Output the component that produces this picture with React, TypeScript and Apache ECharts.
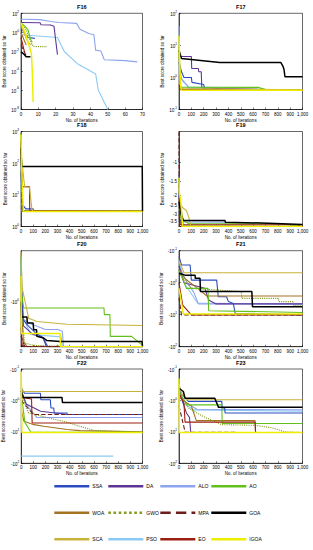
import React, { useEffect, useRef } from 'react';
import * as echarts from 'echarts';

type Pts = [number, number][];

const ALGOS = ['SSA', 'DA', 'ALO', 'AO', 'WOA', 'GWO', 'MPA', 'GOA', 'SCA', 'PSO', 'EO', 'IGOA'];
const DRAW_ORDER = ['PSO', 'ALO', 'DA', 'SSA', 'WOA', 'GWO', 'AO', 'EO', 'MPA', 'SCA', 'GOA', 'IGOA'];
const COLORS: Record<string, string> = {
  SSA: '#2b4cc0', DA: '#5e3596', ALO: '#8ea4ee', AO: '#62c01c', WOA: '#a3731f', GWO: '#849c1c',
  MPA: '#6e1d1d', GOA: '#000000', SCA: '#c9b23a', PSO: '#8ccaf4', EO: '#9a1f10', IGOA: '#eeee00',
};
const LINE_TYPES: Record<string, string> = { GWO: 'dotted', MPA: 'dashed' };

const TITLES = ['F16', 'F17', 'F18', 'F19', 'F20', 'F21', 'F22', 'F23'];
const X_MAX = [70, 1000, 1000, 1000, 1000, 1000, 1000, 1000];
const X_STEP = [10, 100, 100, 100, 100, 100, 100, 100];
const Y_MIN = [1e-8, 0.1, 1, 0.52, 0.255, 0.1, 0.1, 0.1];
const Y_MAX = [100, 100, 1000, 3.86, 3.32, 100, 100, 100];
const Y_NEG = [false, false, false, true, true, true, true, true];
const Y_TICKS: number[][] = [
  [1e-8, 1e-6, 1e-4, 1e-2, 1, 100],
  [0.1, 1, 10, 100],
  [1, 10, 100, 1000],
  [1, 1.5, 2, 2.5, 3, 3.5],
  [1],
  [0.1, 1, 10, 100],
  [0.1, 1, 10, 100],
  [0.1, 1, 10, 100],
];

const F16: Record<string, Pts> = {
  ALO: [[0, 24], [11, 22], [17, 14], [22, 11], [32, 9], [34, 2.2], [39, 0.8], [42, 0.6], [43, 0.015], [46, 0.012], [48, 0.0015], [60, 0.0012], [67, 0.0009]],
  DA: [[0, 11], [11, 10.5], [11.5, 6.5], [17, 6], [19, 4.5], [21, 0.005]],
  PSO: [[0, 0.6], [21, 0.3], [25, 0.01], [33, 0.0005], [40, 0.0001], [43, 0.00005], [44.5, 1e-6], [46, 3e-7], [50, 1e-8]],
  AO: [[0, 10], [2, 5], [4, 2], [5.5, 0.2], [6.5, 0.1]],
  GWO: [[0, 8], [3, 2], [5, 0.2], [7, 0.035], [15, 0.034]],
  SSA: [[0, 3], [4, 0.3], [8, 0.25]],
  GOA: [[0, 0.01], [2, 0.005], [3, 0.003], [5.5, 0.003]],
  IGOA: [[0, 10], [3, 0.5], [6, 0.006], [6.5, 1e-4], [7, 6e-8]],
  MPA: [[0, 0.05], [3, 0.004]],
  EO: [[0, 0.3], [2, 0.01]],
  WOA: [[0, 1], [3, 0.05]],
  SCA: [[0, 5], [4, 0.1], [6, 0.05]],
};

const F17: Record<string, Pts> = {
  GOA: [[0, 7], [20, 3.9], [330, 2.9], [825, 2.9], [840, 2.3], [850, 1.8], [858, 1.05], [1000, 1.05]],
  IGOA: [[0, 20], [5, 3], [15, 0.45], [20, 0.398], [1000, 0.398]],
  AO: [[0, 6], [10, 0.5], [640, 0.49], [710, 0.41], [1000, 0.41]],
  DA: [[0, 4.5], [100, 4.5], [103, 1.9], [157, 1.9], [160, 1.5], [180, 1.5], [185, 0.47], [330, 0.45], [1000, 0.4]],
  SSA: [[0, 3], [20, 1.5], [40, 1.0], [100, 1.0], [105, 0.7], [200, 0.6], [210, 0.42], [1000, 0.4]],
  ALO: [[0, 40], [5, 3], [15, 1.0], [40, 0.7], [60, 0.6], [80, 0.45], [1000, 0.4]],
  PSO: [[0, 2], [20, 0.9], [80, 0.5], [620, 0.47], [640, 0.4], [1000, 0.4]],
  EO: [[0, 0.6], [10, 0.42], [1000, 0.398]],
  WOA: [[0, 0.5], [15, 0.41], [1000, 0.398]],
  MPA: [[0, 0.45], [40, 0.4], [1000, 0.398]],
  GWO: [[0, 5], [10, 0.5], [30, 0.41], [1000, 0.399]],
  SCA: [[0, 10], [8, 0.6], [25, 0.45], [1000, 0.41]],
};

const F18: Record<string, Pts> = {
  GOA: [[0, 300], [5, 78], [998, 78], [1000, 3]],
  MPA: [[0, 78], [8, 78], [9, 3], [1000, 3]],
  EO: [[0, 500], [8, 18], [70, 18], [72, 3.2], [1000, 3]],
  SCA: [[0, 200], [30, 18], [70, 17], [90, 3.4], [100, 3], [1000, 3]],
  SSA: [[0, 50], [10, 5], [40, 3.6], [100, 3.6], [105, 3], [1000, 3]],
  AO: [[0, 900], [3, 60], [8, 3], [1000, 3]],
  DA: [[0, 400], [5, 40], [10, 3], [1000, 3]],
  IGOA: [[0, 800], [5, 100], [10, 20], [20, 3], [1000, 3]],
  ALO: [[0, 100], [10, 3.1], [1000, 3]],
  PSO: [[0, 30], [10, 3.1], [1000, 3]],
  WOA: [[0, 60], [15, 3.2], [1000, 3]],
  GWO: [[0, 20], [10, 3.05], [1000, 3]],
};

const F19: Record<string, Pts> = {
  MPA: [[0, -0.52], [1, -1.3], [3, -3.86], [1000, -3.86]],
  SSA: [[0, -1.3], [2, -1.8], [5, -3.3], [30, -3.8], [1000, -3.86]],
  IGOA: [[0, -1.37], [3, -1.9], [15, -2.3], [25, -3.3], [30, -3.86], [1000, -3.86]],
  SCA: [[0, -2.3], [30, -2.6], [60, -2.75], [80, -3.2], [95, -3.8], [1000, -3.86]],
  GOA: [[0, -2.3], [16, -2.95], [35, -3.4], [373, -3.4], [375, -3.52], [724, -3.6], [1000, -3.7]],
  ALO: [[0, -2], [35, -3.5], [373, -3.52], [380, -3.86], [1000, -3.86]],
  AO: [[0, -2.5], [20, -3.3], [80, -3.64], [830, -3.64], [1000, -3.86]],
  EO: [[0, -3], [10, -3.72], [950, -3.72], [1000, -3.86]],
  DA: [[0, -2], [30, -3.86], [1000, -3.86]],
  PSO: [[0, -3], [20, -3.86], [1000, -3.86]],
  WOA: [[0, -2.8], [40, -3.85], [1000, -3.86]],
  GWO: [[0, -3], [25, -3.86], [1000, -3.86]],
};

const F20: Record<string, Pts> = {
  AO: [[0, -0.3], [5, -0.8], [22, -1.18], [683, -1.18], [686, -1.41], [732, -1.41], [735, -2.52], [910, -2.52], [1000, -3.2]],
  SCA: [[0, -0.26], [10, -0.7], [63, -1.55], [131, -1.69], [377, -1.82], [1000, -1.88]],
  IGOA: [[0, -0.5], [3, -2.34], [322, -2.34], [325, -3.3], [1000, -3.32]],
  GOA: [[0, -1.0], [5, -1.5], [49, -1.5], [52, -1.76], [100, -1.76], [104, -2.11], [128, -2.11], [131, -2.52], [186, -2.63], [213, -2.82], [322, -2.88], [995, -2.88], [1000, -3.25]],
  ALO: [[0, -0.5], [20, -1.6], [80, -1.8], [200, -2.1], [300, -2.1], [340, -2.2], [350, -3.3], [1000, -3.32]],
  SSA: [[0, -0.6], [15, -1.6], [60, -1.9], [120, -2.3], [180, -2.6], [220, -3.3], [1000, -3.32]],
  DA: [[0, -0.5], [20, -1.9], [100, -2.4], [180, -2.6], [210, -3.32], [1000, -3.32]],
  PSO: [[0, -0.3], [15, -1.5], [80, -2.4], [330, -2.55], [340, -3.32], [1000, -3.32]],
  WOA: [[0, -1.0], [20, -2.9], [50, -3.3], [1000, -3.32]],
  EO: [[0, -2], [10, -3.2], [40, -3.3], [1000, -3.32]],
  MPA: [[0, -2.5], [30, -3.3], [1000, -3.32]],
  GWO: [[0, -1.2], [30, -3.0], [100, -3.2], [400, -3.3], [1000, -3.32]],
};

const F21: Record<string, Pts> = {
  SCA: [[0, -0.2], [40, -0.49], [1000, -0.49]],
  GOA: [[0, -0.51], [49, -0.58], [130, -0.58], [132, -0.73], [170, -0.73], [174, -1.9], [590, -1.9], [595, -5.6], [1000, -5.6]],
  SSA: [[0, -0.15], [20, -0.28], [90, -0.28], [100, -0.83], [305, -0.83], [318, -2.75], [385, -2.75], [400, -3.9], [440, -4.5], [455, -9.1], [1000, -10.15]],
  WOA: [[0, -0.4], [50, -0.75], [150, -1.5], [225, -2.6], [1000, -2.6]],
  GWO: [[0, -0.5], [100, -1.5], [505, -1.9], [508, -3.1], [805, -3.1], [808, -3.9], [925, -3.9], [930, -5.2], [1000, -5.3]],
  ALO: [[0, -0.3], [60, -0.9], [120, -2], [157, -4.6], [1000, -4.6]],
  PSO: [[0, -0.2], [40, -1], [150, -4.3], [1000, -4.8]],
  DA: [[0, -0.3], [40, -1.0], [210, -1.5], [240, -3.5], [300, -4.6], [1000, -4.6]],
  AO: [[0, -0.4], [60, -1.5], [235, -1.5], [240, -7.5], [1000, -8.5]],
  IGOA: [[0, -1.5], [35, -9.5], [1000, -9.5]],
  MPA: [[0, -3], [20, -10.1], [1000, -10.15]],
  EO: [[0, -1], [30, -5], [100, -10.1], [1000, -10.15]],
};

const F22: Record<string, Pts> = {
  SCA: [[0, -0.3], [8, -0.52], [1000, -0.52]],
  GOA: [[0, -0.5], [16, -0.8], [336, -0.8], [340, -1.16], [1000, -1.16]],
  SSA: [[0, -0.4], [27, -0.59], [158, -0.59], [162, -0.95], [240, -0.95], [245, -1.74], [268, -1.74], [272, -2.5], [377, -2.5], [380, -2.8], [1000, -2.8]],
  DA: [[0, -0.5], [40, -1.3], [160, -2.2], [380, -2.8], [1000, -2.8]],
  MPA: [[0, -1.0], [100, -2.8], [1000, -2.8]],
  ALO: [[0, -0.5], [50, -1.5], [130, -3.5], [1000, -3.5]],
  EO: [[0, -0.8], [85, -0.9], [90, -5.2], [1000, -5.2]],
  WOA: [[0, -2], [22, -4.6], [104, -5.9], [186, -6.6], [377, -8.4], [486, -9.1], [1000, -10.0]],
  GWO: [[0, -0.6], [60, -2.5], [200, -3.4], [380, -5.0], [480, -6.6], [600, -9], [1000, -10.3]],
  IGOA: [[0, -0.12], [5, -10.4], [1000, -10.4]],
  AO: [[0, -0.6], [30, -5], [80, -10.3], [1000, -10.4]],
  PSO: [[0, -59], [760, -59]],
};

const F23: Record<string, Pts> = {
  SCA: [[0, -0.3], [20, -0.6], [62, -0.95], [1000, -0.95]],
  GOA: [[0, -0.41], [35, -0.52], [49, -0.85], [290, -0.85], [320, -1.66], [1000, -1.66]],
  SSA: [[0, -0.5], [76, -1.07], [346, -1.07], [350, -1.74], [370, -1.74], [373, -2.5], [1000, -2.5]],
  PSO: [[0, -0.3], [30, -1.2], [120, -2.0], [1000, -2.2]],
  ALO: [[0, -0.6], [60, -1.2], [145, -1.9], [1000, -2.0]],
  DA: [[0, -0.5], [60, -2.5], [85, -3.5], [95, -10.5], [1000, -10.5]],
  AO: [[0, -0.5], [62, -1.38], [346, -1.38], [350, -5.4], [1000, -5.4]],
  WOA: [[0, -0.8], [100, -1.5], [140, -4.4], [616, -4.4], [620, -10.5], [1000, -10.5]],
  EO: [[0, -0.6], [40, -1.2], [49, -4.9], [616, -4.9], [620, -10.5], [1000, -10.5]],
  GWO: [[0, -0.6], [80, -1.8], [200, -3.3], [346, -5.9], [616, -6.2], [751, -7.4], [860, -10], [1000, -10.5]],
  MPA: [[0, -1.5], [50, -10.3], [346, -10.4], [350, -10.5], [1000, -10.5]],
  IGOA: [[0, -0.2], [3, -10.5], [1000, -10.5]],
};

const PANELS = [F16, F17, F18, F19, F20, F21, F22, F23];

const COLS: [number, number][] = [[21, 142.5], [179, 302.5]];
const ROWS: [number, number][] = [[13.3, 109.5], [131.5, 226.5], [250.7, 346.7], [369, 463.3]];
const LEGEND_X = [53, 107, 159, 210];
const LEGEND_Y = [487, 513.5, 540];

const FONT = 'Liberation Sans';

function logLabel(neg: boolean, plain: boolean) {
  return (v: number) => {
    if (plain) return '-' + String(v);
    const e = Math.log10(v);
    const r = Math.round(e);
    if (Math.abs(e - r) > 1e-6) return '';
    return `{p|${neg ? '-' : ''}10}{e|${r}}`;
  };
}

function buildOption() {
  const grid: any[] = [];
  const xAxis: any[] = [];
  const yAxis: any[] = [];
  const title: any[] = [];
  const series: any[] = [];
  PANELS.forEach((panel, i) => {
    const col = COLS[i % 2];
    const row = ROWS[Math.floor(i / 2)];
    grid.push({
      left: col[0], top: row[0], width: col[1] - col[0], height: row[1] - row[0],
      show: true, borderColor: '#000', borderWidth: 0.6, backgroundColor: '#fff',
    });
    title.push({
      text: TITLES[i], left: (col[0] + col[1]) / 2, top: row[0] - 9.5, textAlign: 'center', padding: 0,
      textStyle: { fontSize: 5.5, fontWeight: 'bold', color: '#000', fontFamily: FONT },
    });
    xAxis.push({
      type: 'value', gridIndex: i, min: 0, max: X_MAX[i], interval: X_STEP[i],
      name: 'No. of Iterations', nameLocation: 'middle', nameGap: 8,
      nameTextStyle: { fontSize: 4.5, color: '#000', fontFamily: FONT },
      axisLine: { lineStyle: { color: '#000', width: 0.6 } },
      axisTick: { inside: true, length: 2, lineStyle: { color: '#000', width: 0.5 } },
      axisLabel: { fontSize: 4.5, color: '#000', margin: 2, fontFamily: FONT },
      splitLine: { show: false },
    });
    const isF19 = i === 3;
    yAxis.push({
      type: 'log', logBase: 10, gridIndex: i, min: Y_MIN[i], max: Y_MAX[i], inverse: Y_NEG[i],
      name: 'Best score obtained so far', nameLocation: 'middle', nameGap: i % 2 === 0 ? 11 : 12,
      nameRotate: 90,
      nameTextStyle: { fontSize: 4.5, color: '#000', fontFamily: FONT },
      axisLine: { lineStyle: { color: '#000', width: 0.6 } },
      axisTick: { inside: true, length: 2, lineStyle: { color: '#000', width: 0.5 }, customValues: Y_TICKS[i] },
      axisLabel: {
        fontSize: 4.5, color: '#000', margin: 2, fontFamily: FONT,
        customValues: Y_TICKS[i],
        formatter: logLabel(Y_NEG[i], isF19),
        rich: {
          p: { fontSize: 4.5, fontFamily: FONT, color: '#000', lineHeight: 7, verticalAlign: 'bottom' },
          e: { fontSize: 3.2, fontFamily: FONT, color: '#000', lineHeight: 4, verticalAlign: 'top' },
        },
      },
      splitLine: { show: false },
      minorTick: { show: false },
    });
    DRAW_ORDER.forEach((algo) => {
      const pts = panel[algo];
      if (!pts) return;
      const neg = Y_NEG[i];
      series.push({
        type: 'line', name: algo, xAxisIndex: i, yAxisIndex: i,
        data: pts.map(([x, y]) => [x, neg ? Math.abs(y) : y]),
        symbol: 'none', showSymbol: false, silent: true, clip: true,
        lineStyle: {
          color: COLORS[algo],
          width: algo === 'GOA' || algo === 'IGOA' ? 1.5 : 1.1,
          type: (LINE_TYPES[algo] as any) || 'solid',
        },
        itemStyle: { color: COLORS[algo] },
      });
    });
  });

  const legend = ALGOS.map((name, k) => ({
    left: LEGEND_X[k % 4], top: LEGEND_Y[Math.floor(k / 4)] - 3.5, padding: 0,
    itemWidth: 35, itemHeight: 7, itemGap: 0, selectedMode: false,
    data: [name],
    lineStyle: { width: 2.6 },
    itemStyle: { opacity: 0, borderWidth: 0 },
    textStyle: { fontSize: 5, color: '#000', fontFamily: FONT, padding: [0, 0, 0, -2] },
  }));

  return {
    animation: false,
    backgroundColor: '#fff',
    textStyle: { fontFamily: FONT },
    title, grid, xAxis, yAxis, series, legend,
  };
}

export default function App() {
  const ref = useRef<HTMLDivElement>(null);
  useEffect(() => {
    const chart = echarts.init(ref.current!, null, { renderer: 'svg', width: 313, height: 550 });
    chart.setOption(buildOption() as any);
    return () => chart.dispose();
  }, []);
  return <div ref={ref} style={{ position: 'fixed', left: 0, top: 0, width: 313, height: 550, background: '#fff' }} />;
}
